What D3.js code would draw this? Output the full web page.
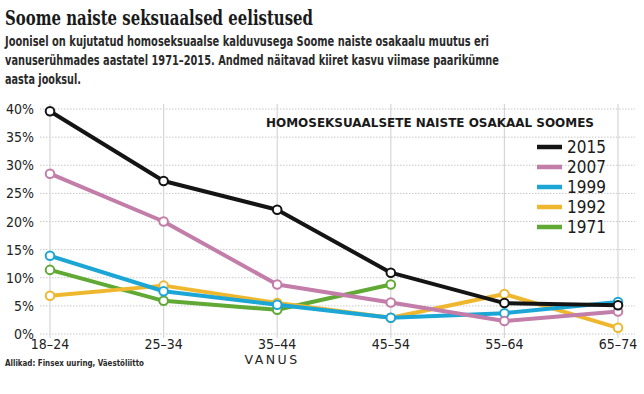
<!DOCTYPE html>
<html>
<head>
<meta charset="utf-8">
<script src="https://cdn.jsdelivr.net/npm/d3@7"></script>
<style>
  body { margin: 0; background: #fff; }
  svg { display: block; }
</style>
</head>
<body>
<svg width="644" height="394"></svg>
<script>
// data (percent)
const ages = ["18–24", "25–34", "35–44", "45–54", "55–64", "65–74"];
const years = ["2015", "2007", "1999", "1992", "1971"];
const v2015 = [39.6, 27.2, 22.1, 10.9, 5.5, 5.1];
const v2007 = [28.5, 20.0, 8.8, 5.6, 2.3, 4.0];
const v1999 = [13.9, 7.6, 5.2, 2.9, 3.7, 5.7];
const v1992 = [6.8, 8.6, 5.5, 2.9, 7.1, 1.1];
const v1971 = [11.4, 5.9, 4.3, 8.8];
const yTicks = [0, 5, 10, 15, 20, 25, 30, 35, 40];
const colors = ["#141414", "#c27ea9", "#1ba6d6", "#efb72e", "#5fa934"];

const seriesVals = [v2015, v2007, v1999, v1992, v1971];
const series = years.map((y, i) => ({ year: y, color: colors[i], values: seriesVals[i] }));

const svg = d3.select("svg");

const x = d3.scalePoint().domain(ages).range([50, 618]);
const y = d3.scaleLinear().domain([0, 40]).range([334, 109]);

// title + intro
svg.append("text")
  .attr("x", 5).attr("y", 25)
  .style("font-family", "'DejaVu Serif', serif")
  .style("font-weight", "bold")
  .style("font-size", "20px")
  .attr("textLength", 308).attr("lengthAdjust", "spacingAndGlyphs")
  .attr("fill", "#1a1a1a")
  .text("Soome naiste seksuaalsed eelistused");

const intro = [
  ["Joonisel on kujutatud homoseksuaalse kalduvusega Soome naiste osakaalu muutus eri", 484],
  ["vanuserühmades aastatel 1971–2015. Andmed näitavad kiiret kasvu viimase paarikümne", 494],
  ["aasta jooksul.", 76]
];
intro.forEach((d, i) => {
  svg.append("text")
    .attr("x", 5).attr("y", 46 + i * 19)
    .style("font-family", "'DejaVu Sans Condensed', 'DejaVu Sans', sans-serif")
    .style("font-weight", "bold")
    .style("font-size", "14px")
    .attr("textLength", d[1]).attr("lengthAdjust", "spacingAndGlyphs")
    .attr("fill", "#2a2a2a")
    .text(d[0]);
});

// grid
const grid = svg.append("g");
grid.selectAll(".hg").data(yTicks).join("line")
  .attr("x1", 40).attr("x2", 635)
  .attr("y1", d => y(d)).attr("y2", d => y(d))
  .attr("stroke", "#c8c8c8").attr("stroke-width", 1)
  .attr("stroke-dasharray", "1.5,1.5");
grid.selectAll(".vg").data(ages).join("line")
  .attr("x1", d => x(d)).attr("x2", d => x(d))
  .attr("y1", 104).attr("y2", 338)
  .attr("stroke", "#d6d6d6").attr("stroke-width", 1.2);

// y axis labels
svg.append("g").selectAll("text").data(yTicks).join("text")
  .attr("x", 34).attr("y", d => y(d) + 5)
  .attr("text-anchor", "end")
  .style("font-family", "'DejaVu Sans Condensed', 'DejaVu Sans', sans-serif")
  .style("font-size", "14px")
  .attr("fill", "#222")
  .text(d => d + "%");

// x axis labels
svg.append("g").selectAll("text").data(ages).join("text")
  .attr("x", d => x(d)).attr("y", 349)
  .attr("text-anchor", "middle")
  .style("font-family", "'DejaVu Sans Condensed', 'DejaVu Sans', sans-serif")
  .style("font-size", "14px")
  .attr("fill", "#222")
  .text(d => d);

svg.append("text")
  .attr("x", 272).attr("y", 364)
  .attr("text-anchor", "middle")
  .style("font-family", "'DejaVu Sans', sans-serif")
  .style("font-size", "12.5px")
  .style("letter-spacing", "2.5px")
  .attr("fill", "#222")
  .text("VANUS");

svg.append("text")
  .attr("x", 5).attr("y", 366)
  .style("font-family", "'DejaVu Sans Condensed', 'DejaVu Sans', sans-serif")
  .style("font-weight", "bold")
  .style("font-size", "9.5px")
  .attr("textLength", 139).attr("lengthAdjust", "spacingAndGlyphs")
  .attr("fill", "#2a2a2a")
  .text("Allikad: Finsex uuring, Väestöliitto");

// legend
svg.append("text")
  .attr("x", 266).attr("y", 127)
  .style("font-family", "'DejaVu Sans', sans-serif")
  .style("font-weight", "bold")
  .style("font-size", "12.5px")
  .attr("textLength", 328).attr("lengthAdjust", "spacingAndGlyphs")
  .attr("fill", "#1a1a1a")
  .text("HOMOSEKSUAALSETE NAISTE OSAKAAL SOOMES");

const leg = svg.append("g").selectAll("g").data(series).join("g")
  .attr("transform", (d, i) => `translate(537,${147 + i * 20})`);
leg.append("line")
  .attr("x1", 0).attr("x2", 25)
  .attr("stroke", d => d.color).attr("stroke-width", 4.5);
leg.append("text")
  .attr("x", 30).attr("y", 6)
  .style("font-family", "'DejaVu Sans Condensed', 'DejaVu Sans', sans-serif")
  .style("font-size", "17px")
  .attr("fill", "#1a1a1a")
  .text(d => d.year);

// lines, older years underneath
const line = d3.line()
  .x((d, i) => x(ages[i]))
  .y(d => y(d));

const plot = svg.append("g");
series.slice().reverse().forEach(s => {
  plot.append("path")
    .datum(s.values)
    .attr("d", line)
    .attr("fill", "none")
    .attr("stroke", s.color)
    .attr("stroke-width", 4)
    .attr("stroke-linejoin", "round");
  plot.selectAll(null).data(s.values).join("circle")
    .attr("cx", (d, i) => x(ages[i]))
    .attr("cy", d => y(d))
    .attr("r", 4.3)
    .attr("fill", "#fff")
    .attr("stroke", s.color)
    .attr("stroke-width", 2);
});
</script>
</body>
</html>
